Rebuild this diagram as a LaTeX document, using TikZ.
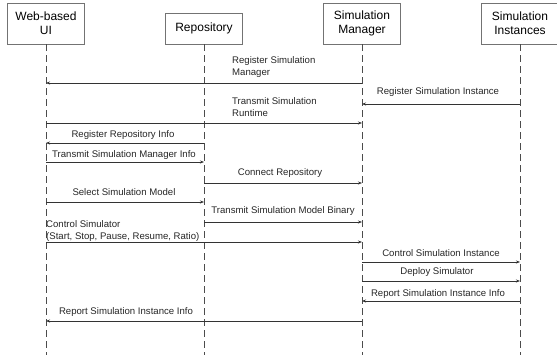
\documentclass[tikz,border=0pt]{standalone}
\usepackage{fontspec}
\setmainfont{Liberation Sans}
\usetikzlibrary{arrows.meta}
\begin{document}
\begin{tikzpicture}[x=1pt,y=-1pt,
  actor/.style={draw=black!55,line width=0.6pt,minimum width=77pt,inner sep=1pt,
    font=\fontsize{12}{14}\selectfont,align=center,fill=white},
  life/.style={draw=black!70,line width=0.9pt,dash pattern=on 7pt off 4pt},
  msg/.style={draw=black!80,line width=0.8pt,-{Stealth[length=4pt,width=3pt]}},
  lbl/.style={font=\fontsize{9.6}{11.5}\selectfont,inner sep=0pt,text=black!85},
  lbll/.style={lbl,anchor=west,align=left}]
\useasboundingbox (0,0) rectangle (557,355);
% actors
\node[actor,minimum height=41pt] (ui)  at (46,23.5) {Web-based\\UI};
\node[actor,minimum height=31pt] (rep) at (204,28.5) {Repository};
\node[actor,minimum height=41pt] (mgr) at (362,23.5) {Simulation\\Manager};
\node[actor,minimum height=41pt] (ins) at (520,23.5) {Simulation\\Instances};
% lifeline ends
\coordinate (uiE)  at (46,356);
\coordinate (repE) at (204,356);
\coordinate (mgrE) at (362,356);
\coordinate (insE) at (520,356);
\draw[life] (ui.south) -- (uiE);
\draw[life] (rep.south) -- (repE);
\draw[life] (mgr.south) -- (mgrE);
\draw[life] (ins.south) -- (insE);
% messages
\draw[msg] (mgr |- 0,83) -- (ui |- 0,83);
\node[lbll] (l1) at (232,67) {Register Simulation\\Manager};
\draw[msg] (ins |- 0,104) -- (mgr |- 0,104);
\node[lbl] (l2) at (438,92) {Register Simulation Instance};
\draw[msg] (ui |- 0,123) -- (mgr |- 0,123);
\node[lbll] (l3) at (232,107) {Transmit Simulation\\Runtime};
\draw[msg] (rep |- 0,143) -- (ui |- 0,143);
\node[lbl] (l4) at (123,135) {Register Repository Info};
\draw[msg] (ui |- 0,162) -- (rep |- 0,162);
\node[lbl] (l5) at (124,155) {Transmit Simulation Manager Info};
\draw[msg] (rep |- 0,183) -- (mgr |- 0,183);
\node[lbl] (l6) at (280,173) {Connect Repository};
\draw[msg] (ui |- 0,202) -- (rep |- 0,202);
\node[lbl] (l7) at (124,192) {Select Simulation Model};
\draw[msg] (rep |- 0,222) -- (mgr |- 0,222);
\node[lbl] (l8) at (283,211) {Transmit Simulation Model Binary};
\draw[msg] (ui |- 0,242) -- (mgr |- 0,242);
\node[lbll] (l9) at (46,231) {Control Simulator\\(Start, Stop, Pause, Resume, Ratio)};
\draw[msg] (mgr |- 0,262) -- (ins |- 0,262);
\node[lbl] (l10) at (441,253) {Control Simulation Instance};
\draw[msg] (mgr |- 0,281) -- (ins |- 0,281);
\node[lbl] (l11) at (437,272) {Deploy Simulator};
\draw[msg] (ins |- 0,301) -- (mgr |- 0,301);
\node[lbl] (l12) at (438,294) {Report Simulation Instance Info};
\draw[msg] (mgr |- 0,321) -- (ui |- 0,321);
\node[lbl] (l13) at (126,312) {Report Simulation Instance Info};
\end{tikzpicture}
\end{document}
